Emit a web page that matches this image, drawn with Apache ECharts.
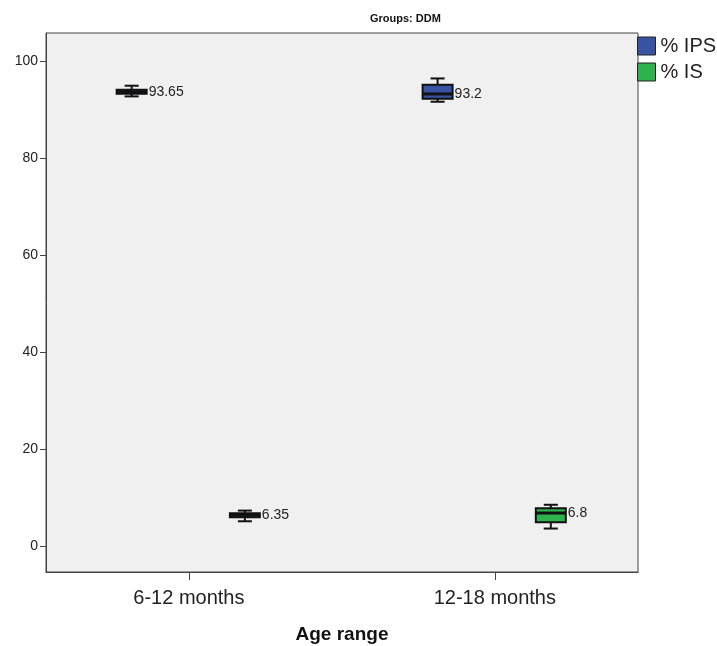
<!DOCTYPE html>
<html><head><meta charset="utf-8">
<script src="https://cdn.jsdelivr.net/npm/echarts@6/dist/echarts.min.js"></script>
<style>html,body{margin:0;padding:0;background:#fff}#c{width:717px;height:646px}</style>
</head><body><div id="c"></div>
<script>
const categories = ['6-12 months', '12-18 months'];
const seriesNames = ['% IPS', '% IS'];
// box statistics per category: [min, Q1, median, Q3, max]
const ipsValues = [[92.7, 93.25, 93.65, 94.05, 94.9], [91.6, 92.2, 93.2, 95.1, 96.4]];
const isValues = [[5.1, 5.95, 6.35, 6.75, 7.3], [3.6, 4.9, 6.8, 7.8, 8.5]];
const yTicks = [0, 20, 40, 60, 80, 100];
const colors = ['#3953a4', '#2eb24b'];

const FONT = "'Liberation Sans', Arial, sans-serif";

function toData(vals) {
  return vals.map((v, i) => [i + 1].concat(v));
}

function makeRender(offset) {
  return function (params, api) {
    const x = api.value(0) + offset;
    const vals = [1, 2, 3, 4, 5].map(i => api.value(i));
    const hw = 0.049, cw = 0.023;
    const X = v => api.coord([v, 0])[0];
    const Y = v => api.coord([x, v])[1];
    const l = X(x - hw), r = X(x + hw), cl = X(x - cw), cr = X(x + cw), cx = X(x);
    const yMin = Y(vals[0]), yQ1 = Y(vals[1]), yMed = Y(vals[2]), yQ3 = Y(vals[3]), yMax = Y(vals[4]);
    const color = api.visual('color');
    const ls = { stroke: '#111', lineWidth: 2 };
    return {
      type: 'group',
      children: [
        { type: 'line', shape: { x1: cx, y1: yMax, x2: cx, y2: yQ3 }, style: ls },
        { type: 'line', shape: { x1: cx, y1: yQ1, x2: cx, y2: yMin }, style: ls },
        { type: 'line', shape: { x1: cl, y1: yMax, x2: cr, y2: yMax }, style: ls },
        { type: 'line', shape: { x1: cl, y1: yMin, x2: cr, y2: yMin }, style: ls },
        { type: 'rect', shape: { x: l, y: yQ3, width: r - l, height: yQ1 - yQ3 }, style: { fill: color, stroke: '#111', lineWidth: 2 } },
        { type: 'line', shape: { x1: l, y1: yMed, x2: r, y2: yMed }, style: { stroke: '#111', lineWidth: 3 } },
        { type: 'text', x: r + 2, y: yMed, style: { text: String(vals[2]), fill: '#222', font: '14px ' + FONT, verticalAlign: 'middle', align: 'left' } }
      ]
    };
  };
}

const chart = echarts.init(document.getElementById('c'), null, { renderer: 'canvas' });
chart.setOption({
  animation: false,
  backgroundColor: '#ffffff',
  textStyle: { fontFamily: FONT },
  title: {
    text: 'Groups: DDM',
    left: 370, top: 13, padding: 0,
    textStyle: { fontSize: 11, fontWeight: 'bold', color: '#111', fontFamily: FONT }
  },
  legend: {
    orient: 'vertical',
    left: 637, top: 36, padding: 0,
    itemWidth: 18, itemHeight: 18, itemGap: 6, itemTextGap: 4,
    icon: 'rect',
    data: seriesNames,
    textStyle: { fontSize: 20, color: '#222', fontFamily: FONT },
    itemStyle: { borderColor: '#222', borderWidth: 1 }
  },
  grid: {
    left: 46, right: 79, top: 33, bottom: 74,
    outerBoundsMode: 'none',
    show: true, backgroundColor: '#f0f0f0', borderColor: '#444', borderWidth: 1
  },
  xAxis: {
    type: 'value',
    min: 0.533, max: 2.468,
    name: 'Age range',
    nameLocation: 'middle',
    nameGap: 53,
    nameTextStyle: { fontSize: 19, fontWeight: 'bold', color: '#111', fontFamily: FONT },
    splitLine: { show: false },
    axisLine: { show: true, onZero: false, lineStyle: { color: '#444', width: 1 } },
    axisTick: { show: true, length: 8, customValues: [1, 2], lineStyle: { color: '#444' } },
    axisLabel: {
      customValues: [1, 2], margin: 16, fontSize: 20, color: '#222', fontFamily: FONT,
      formatter: v => categories[Math.round(v) - 1]
    }
  },
  yAxis: {
    type: 'value',
    min: -5.36, max: 105.77,
    splitLine: { show: false },
    axisLine: { show: true, onZero: false, lineStyle: { color: '#444', width: 1 } },
    axisTick: { show: true, length: 6, customValues: yTicks, lineStyle: { color: '#444' } },
    axisLabel: { customValues: yTicks, margin: 8, fontSize: 14, color: '#222', fontFamily: FONT }
  },
  series: [
    {
      name: seriesNames[0], type: 'custom',
      renderItem: makeRender(-0.187),
      itemStyle: { color: colors[0], borderColor: '#222', borderWidth: 1 },
      encode: { x: 0, y: [1, 2, 3, 4, 5] },
      data: toData(ipsValues)
    },
    {
      name: seriesNames[1], type: 'custom',
      renderItem: makeRender(0.183),
      itemStyle: { color: colors[1], borderColor: '#222', borderWidth: 1 },
      encode: { x: 0, y: [1, 2, 3, 4, 5] },
      data: toData(isValues)
    }
  ]
});
</script>
</body></html>
